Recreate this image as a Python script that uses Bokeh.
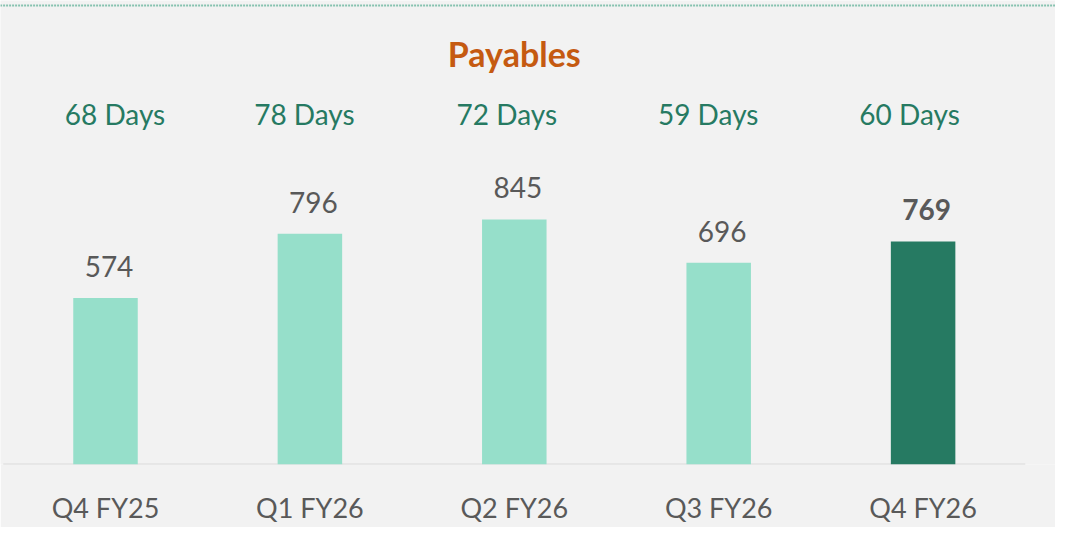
from bokeh.plotting import figure
from bokeh.models import ColumnDataSource, Range1d, FixedTicker
from bokeh.core.properties import value
from bokeh.embed import file_html
from bokeh.resources import INLINE

# ---- data ----
categories = ["Q4 FY25", "Q1 FY26", "Q2 FY26", "Q3 FY26", "Q4 FY26"]
payables = [574, 796, 845, 696, 769]
days = [68, 78, 72, 59, 60]
title_text = "Payables"
highlight_index = 4

# ---- styling / layout ----
FONT = "Lato"
LIGHT = "#96dfca"
DARK = "#267a62"
GREY_TXT = "#595959"
BG = "#f2f2f2"
W, H = 1055, 527
FRAME_BOTTOM = 464          # px from top where y=0 sits
PX_PER_UNIT = 0.29
CAT_STEP = 204.4            # px between category centres
FIRST_CENTER = 105.0        # px from figure left
DAY_NUDGE = [9.5, -5.5, -7.5, -10.5, -13.5]
FIX = 11.5                  # renderer baseline correction (px)

idx = list(range(len(categories)))
bar_colors = [DARK if i == highlight_index else LIGHT for i in idx]
val_styles = ["bold" if i == highlight_index else "normal" for i in idx]
val_text = [str(v) for v in payables]
day_text = [f"{d} Days" for d in days]

src = ColumnDataSource(dict(x=idx, top=payables, color=bar_colors,
                            label=val_text, style=val_styles,
                            days=day_text, nudge=DAY_NUDGE,
                            zero=[0] * len(idx)))

x_start = -FIRST_CENTER / CAT_STEP
x_end = (W - FIRST_CENTER) / CAT_STEP
y_end = FRAME_BOTTOM / PX_PER_UNIT

p = figure(width=W, height=H, output_backend="svg", toolbar_location=None,
           x_range=Range1d(x_start, x_end), y_range=Range1d(0, y_end),
           min_border_left=0, min_border_right=0, min_border_top=0,
           min_border_bottom=H - FRAME_BOTTOM)
p.background_fill_color = BG
p.border_fill_color = BG
p.outline_line_color = None
p.grid.visible = False
p.yaxis.visible = False

# top dotted rule
y_rule = y_end - 5 / PX_PER_UNIT
p.segment(x0=[x_start - 1], x1=[x_end + 1], y0=[y_rule], y1=[y_rule],
          line_color="#86c2af", line_width=2, line_dash="2 1")

# baseline
p.segment(x0=[-0.5], x1=[len(idx) - 0.5], y0=[0], y1=[0],
          line_color="#d9d9d9", line_width=2)

p.vbar(x="x", top="top", width=64.5 / CAT_STEP, fill_color="color",
       line_color=None, source=src)

# value labels
p.text(x="x", y="top", text="label", source=src, x_offset=3.5,
       y_offset=-(20 + FIX),
       text_font=value(FONT), text_font_size="28px", text_font_style="style",
       text_color=GREY_TXT, text_align="center", text_baseline="alphabetic")

# days labels
p.text(x="x", y="zero", text="days", source=src, x_offset="nudge",
       y_offset=-(FRAME_BOTTOM - 124.5 + FIX),
       text_font=value(FONT), text_font_size="28px",
       text_color=DARK, text_align="center", text_baseline="alphabetic")

# title
p.text(x=[idx[len(idx) // 2]], y=[0], text=[title_text],
       y_offset=-(FRAME_BOTTOM - 65.7 + 13), text_font=value(FONT),
       text_font_size="34px", text_font_style="bold", text_color="#c55a11",
       text_align="center", text_baseline="alphabetic")

ax = p.xaxis[0]
ax.ticker = FixedTicker(ticks=idx)
ax.major_label_overrides = {i: c for i, c in zip(idx, categories)}
ax.axis_line_color = None
ax.major_tick_line_color = None
ax.minor_tick_line_color = None
ax.major_label_text_font = FONT
ax.major_label_text_font_size = "27px"
ax.major_label_text_color = GREY_TXT
ax.major_label_standoff = 20

open("out.html", "w").write(file_html(p, INLINE))
